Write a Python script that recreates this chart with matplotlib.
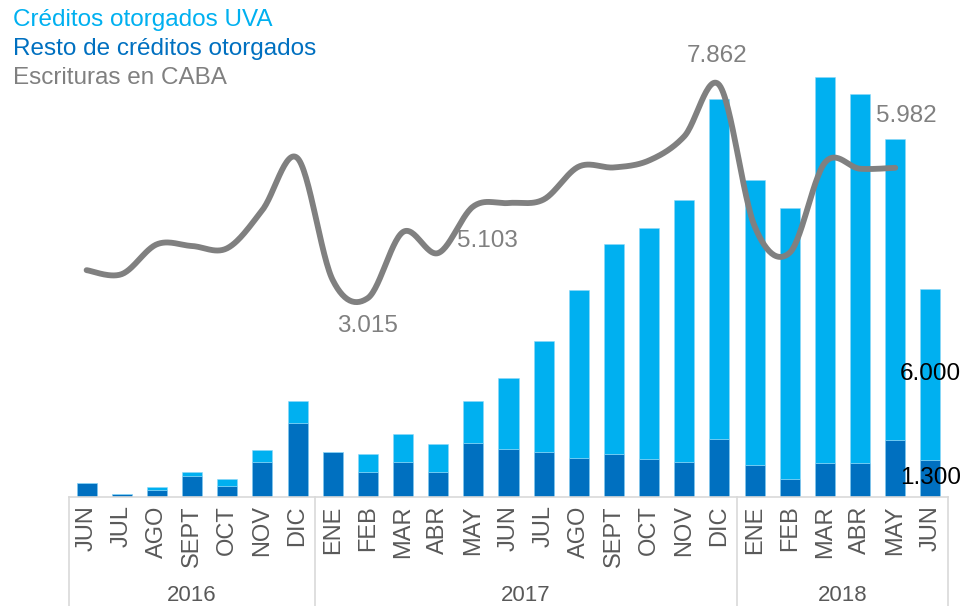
import matplotlib.pyplot as plt
import numpy as np
from matplotlib.transforms import blended_transform_factory

UVA_COLOR = "#00B0F0"
RESTO_COLOR = "#0070C0"
LINE_COLOR = "#808080"
AXIS_GRAY = "#D9D9D9"
TEXT_GRAY = "#595959"

plt.rcParams["font.family"] = ["Liberation Sans", "DejaVu Sans"]

months = ["JUN", "JUL", "AGO", "SEPT", "OCT", "NOV", "DIC",
          "ENE", "FEB", "MAR", "ABR", "MAY", "JUN", "JUL", "AGO", "SEPT", "OCT", "NOV", "DIC",
          "ENE", "FEB", "MAR", "ABR", "MAY", "JUN"]
years = ["2016", "2017", "2018"]
year_sizes = [7, 12, 6]

resto = [490, 110, 230, 720, 370, 1245, 2590,
         1570, 875, 1240, 890, 1905, 1695, 1590, 1380, 1510, 1345, 1230, 2045,
         1125, 640, 1195, 1205, 2010, 1300]
uva = [0, 0, 120, 155, 260, 410, 785,
       0, 620, 960, 960, 1475, 2470, 3895, 5885, 7360, 8100, 9195, 11915,
       10000, 9500, 13560, 12930, 10545, 6000]

# Escrituras en CABA, JUN 2016 - MAY 2018
escrituras = [3650, 3560, 4240, 4200, 4150, 5020, 6200,
              3425, 3015, 4520, 4040, 5103, 5180, 5260, 6010, 5990, 6150, 6700, 7862,
              4650, 4050, 6100, 5960, 5982]

# labelled points of the escrituras line: index, offset in points
line_labels = [(8, (0, -20)), (11, (10, -25)), (18, (-2, 21)), (23, (8, 37))]
# labelled stack values of the last bar
bar_labels = [(24, "uva"), (24, "resto")]


def fmt(v):
    return f"{v:,.0f}".replace(",", ".")


def smooth_curve(x, y, n=30):
    # piecewise cubic Bezier through every point, tangent = (next - prev) / 6
    x = np.asarray(x, float)
    y = np.asarray(y, float)
    pts = np.column_stack([x, y])
    ext = np.vstack([pts[0], pts, pts[-1]])
    out = []
    t = np.linspace(0, 1, n)[:, None]
    for i in range(len(pts) - 1):
        p0 = ext[i + 1]
        p3 = ext[i + 2]
        c1 = p0 + (ext[i + 2] - ext[i]) / 6.0
        c2 = p3 - (ext[i + 3] - ext[i + 1]) / 6.0
        seg = (1 - t) ** 3 * p0 + 3 * (1 - t) ** 2 * t * c1 + 3 * (1 - t) * t ** 2 * c2 + t ** 3 * p3
        out.append(seg if i == 0 else seg[1:])
    out = np.vstack(out)
    return out[:, 0], out[:, 1]


fig = plt.figure(figsize=(9.6, 6.06), dpi=100)
ax = fig.add_axes([0.0719, 0.1799, 0.9156, 0.7871])
x = np.arange(len(months))

ax.bar(x, resto, width=0.57, color=RESTO_COLOR, edgecolor="#7FCBF2", linewidth=0.4, zorder=2)
ax.bar(x, uva, width=0.57, bottom=resto, color=UVA_COLOR, edgecolor="#8FD8F8", linewidth=0.4, zorder=2)
ax.set_xlim(-0.5, len(months) - 0.5)
ax.set_ylim(0, 16743)

for spine in ["left", "right", "top"]:
    ax.spines[spine].set_visible(False)
ax.spines["bottom"].set_color(AXIS_GRAY)
ax.spines["bottom"].set_linewidth(1.2)
ax.set_yticks([])
ax.set_xticks(x)
ax.set_xticklabels(months, rotation=90, fontsize=17, color=TEXT_GRAY)
ax.tick_params(axis="x", length=0, pad=6)

# year groups under the month labels
trans = blended_transform_factory(ax.transData, ax.transAxes)
edges = np.concatenate([[0], np.cumsum(year_sizes)]) - 0.5
for e in edges:
    ax.plot([e, e], [0, -0.235], transform=trans, color=AXIS_GRAY, lw=1.2, clip_on=False)
for yr, a, b in zip(years, edges[:-1], edges[1:]):
    ax.text((a + b) / 2, -0.206, yr, transform=trans, ha="center", va="center",
            fontsize=16, color=TEXT_GRAY)

for i, part in bar_labels:
    if part == "uva":
        val, ypos = uva[i], resto[i] + uva[i] / 2
    else:
        val, ypos = resto[i], resto[i] / 2
    ax.text(i, ypos, fmt(val), ha="center", va="center", fontsize=17.5, color="black", zorder=5)

ax2 = ax.twinx()
ax2.set_ylim(-1517, 9349)
ax2.axis("off")
lx, ly = smooth_curve(x[:len(escrituras)], escrituras)
ax2.plot(lx, ly, color=LINE_COLOR, lw=4.2, solid_capstyle="round", zorder=3)
for i, off in line_labels:
    ax2.annotate(fmt(escrituras[i]), (i, escrituras[i]), xytext=off, textcoords="offset points",
                 ha="center", va="center", fontsize=17.5, color=LINE_COLOR)

legend_items = [("Créditos otorgados UVA", UVA_COLOR),
                ("Resto de créditos otorgados", RESTO_COLOR),
                ("Escrituras en CABA", LINE_COLOR)]
for k, (label, color) in enumerate(legend_items):
    fig.text(13 / 960, 1 - (20 + 29 * k) / 606, label, ha="left", va="center",
             fontsize=17.5, color=color)

fig.savefig("out.png", dpi=100)
